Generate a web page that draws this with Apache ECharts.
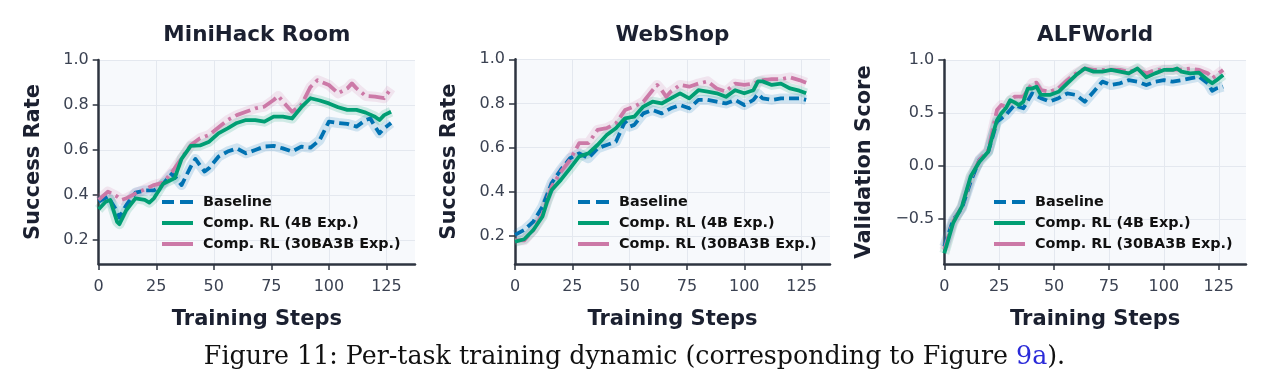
<!DOCTYPE html>
<html>
<head>
<meta charset="utf-8">
<title>Per-task training dynamic</title>
<script src="https://cdn.jsdelivr.net/npm/echarts@6/dist/echarts.min.js"></script>
<style>
  html, body { margin: 0; padding: 0; background: #fff; }
  #chart { width: 1269px; height: 390px; }
</style>
</head>
<body>
<div id="chart"></div>
<script>
// ---- data: [training step, value] ----
var panelTitles = ['MiniHack Room', 'WebShop', 'ALFWorld'];
var yNames = ['Success Rate', 'Success Rate', 'Validation Score'];
var seriesNames = ['Baseline', 'Comp. RL (4B Exp.)', 'Comp. RL (30BA3B Exp.)'];
var xTicks = [0, 25, 50, 75, 100, 125];
var yTicksRate = [0.2, 0.4, 0.6, 0.8, 1.0];
var yTicksScore = [-0.5, 0.0, 0.5, 1.0];

var miniBaseline = [[0,0.37],[4,0.393],[8,0.326],[9,0.30],[12,0.355],[16,0.41],[20,0.42],[24,0.42],[28,0.45],[32,0.496],[36,0.444],[40,0.526],[42,0.56],[46,0.504],[48,0.52],[52,0.57],[56,0.593],[60,0.607],[64,0.585],[68,0.60],[72,0.615],[76,0.618],[80,0.607],[84,0.593],[88,0.615],[92,0.61],[96,0.644],[100,0.726],[104,0.72],[108,0.716],[112,0.704],[116,0.733],[118,0.74],[120,0.704],[122,0.674],[124,0.696],[127,0.72]];
var miniComp4b = [[0,0.336],[3,0.37],[5,0.378],[8,0.28],[9,0.27],[12,0.333],[16,0.385],[20,0.378],[22,0.366],[24,0.385],[28,0.45],[32,0.47],[33,0.475],[36,0.56],[40,0.618],[44,0.62],[48,0.637],[52,0.674],[56,0.696],[60,0.72],[64,0.733],[68,0.733],[72,0.726],[76,0.748],[80,0.748],[84,0.74],[88,0.79],[92,0.83],[96,0.82],[100,0.807],[104,0.79],[108,0.778],[112,0.778],[116,0.766],[120,0.748],[122,0.733],[124,0.755],[127,0.77]];
var miniComp30b = [[0,0.378],[4,0.415],[8,0.393],[10,0.378],[12,0.385],[16,0.407],[20,0.425],[24,0.444],[28,0.455],[32,0.504],[36,0.563],[40,0.622],[44,0.652],[48,0.667],[52,0.70],[56,0.733],[60,0.755],[64,0.77],[68,0.785],[72,0.793],[76,0.822],[78,0.84],[80,0.815],[84,0.77],[88,0.80],[92,0.88],[95,0.91],[100,0.889],[104,0.852],[108,0.874],[110,0.896],[112,0.874],[116,0.84],[120,0.837],[124,0.83],[127,0.874]];

var webBaseline = [[0,0.205],[4,0.227],[8,0.265],[12,0.333],[16,0.44],[20,0.50],[24,0.552],[28,0.574],[32,0.552],[36,0.597],[40,0.612],[44,0.627],[48,0.718],[50,0.695],[52,0.703],[56,0.755],[60,0.77],[64,0.755],[68,0.778],[72,0.793],[76,0.778],[80,0.816],[84,0.816],[88,0.808],[92,0.80],[96,0.816],[100,0.793],[104,0.816],[106,0.843],[108,0.823],[112,0.816],[116,0.823],[120,0.823],[124,0.823],[127,0.816]];
var webComp4b = [[0,0.174],[4,0.185],[8,0.227],[12,0.288],[14,0.355],[16,0.408],[20,0.454],[24,0.506],[28,0.56],[32,0.574],[36,0.612],[40,0.657],[44,0.688],[48,0.733],[52,0.74],[56,0.786],[60,0.808],[64,0.80],[68,0.823],[72,0.846],[76,0.823],[80,0.86],[84,0.854],[88,0.846],[92,0.83],[96,0.86],[100,0.846],[104,0.86],[106,0.90],[108,0.90],[112,0.884],[116,0.89],[120,0.868],[124,0.858],[127,0.846]];
var webComp30b = [[0,0.18],[4,0.18],[8,0.227],[12,0.30],[16,0.423],[20,0.49],[24,0.544],[28,0.62],[32,0.62],[36,0.68],[40,0.688],[44,0.71],[48,0.77],[52,0.786],[56,0.808],[60,0.86],[62,0.884],[64,0.86],[66,0.83],[68,0.854],[72,0.884],[76,0.876],[80,0.89],[84,0.90],[88,0.868],[92,0.854],[96,0.89],[100,0.884],[104,0.89],[108,0.906],[112,0.91],[116,0.91],[120,0.918],[124,0.906],[127,0.894]];

var alfBaseline = [[0,-0.76],[4,-0.51],[8,-0.40],[12,-0.148],[16,0.057],[20,0.135],[24,0.418],[28,0.48],[32,0.575],[36,0.544],[40,0.685],[44,0.64],[48,0.607],[52,0.64],[56,0.685],[60,0.67],[64,0.607],[68,0.70],[72,0.796],[76,0.764],[80,0.78],[84,0.81],[88,0.796],[92,0.764],[96,0.796],[100,0.81],[104,0.796],[108,0.81],[112,0.827],[116,0.843],[120,0.78],[122,0.71],[124,0.733],[127,0.748]];
var alfComp4b = [[0,-0.824],[4,-0.54],[8,-0.384],[12,-0.10],[16,0.04],[20,0.135],[22,0.29],[24,0.434],[26,0.497],[28,0.544],[30,0.62],[32,0.60],[34,0.575],[36,0.607],[38,0.73],[40,0.73],[42,0.748],[44,0.67],[48,0.67],[52,0.70],[56,0.78],[60,0.858],[64,0.92],[68,0.89],[72,0.89],[76,0.906],[80,0.89],[84,0.874],[88,0.92],[92,0.836],[96,0.874],[100,0.906],[104,0.906],[106,0.92],[108,0.89],[112,0.874],[116,0.88],[120,0.81],[122,0.78],[124,0.81],[127,0.858]];
var alfComp30b = [[0,-0.79],[4,-0.525],[8,-0.384],[12,-0.116],[16,0.057],[20,0.15],[24,0.528],[26,0.575],[28,0.56],[32,0.654],[36,0.654],[40,0.78],[42,0.786],[44,0.717],[48,0.70],[52,0.733],[56,0.81],[60,0.874],[64,0.92],[68,0.906],[72,0.906],[76,0.91],[80,0.906],[84,0.89],[88,0.91],[92,0.874],[96,0.906],[100,0.91],[104,0.91],[108,0.91],[112,0.92],[116,0.906],[120,0.874],[122,0.827],[124,0.858],[127,0.906]];

var panelData = [
  [miniBaseline, miniComp4b, miniComp30b],
  [webBaseline, webComp4b, webComp30b],
  [alfBaseline, alfComp4b, alfComp30b]
];

// ---- layout / style ----
var colors = ['#0072B2', '#009E73', '#CC79A7'];
var dashes = [[10, 5], 'solid', [16, 5, 3, 5]];
// legend glyphs: two dashes for the baseline, plain bars for the others
var legendIcons = [
  'path://M0,0h12v4h-12z M18,0h13v4h-13z',
  'path://M0,0h31v4h-31z',
  'path://M0,0h31v4h-31z'
];
var grids = [
  { left: 98.7, top: 60, width: 316.3, height: 204 },
  { left: 515, top: 59.3, width: 315, height: 204.7 },
  { left: 944.3, top: 60, width: 301.7, height: 204 }
];
var yRanges = [[0.093, 1.0], [0.073, 1.0], [-0.925, 1.0]];
var yTicks = [yTicksRate, yTicksRate, yTicksScore];
var yNameGap = [55, 55, 69];
var legendLeft = [162, 578, 994];

var axisColor = '#2e3440';
var labelColor = '#3b4252';
var gridColor = '#e4e8ef';
var titleFont = { fontFamily: 'DejaVu Sans', fontWeight: 'bold', fontSize: 21.5, color: '#1b2030' };

var option = {
  animation: false,
  backgroundColor: '#ffffff',
  title: [],
  grid: [],
  xAxis: [],
  yAxis: [],
  legend: [],
  series: []
};

for (var p = 0; p < 3; p++) {
  var g = grids[p];
  option.grid.push({
    left: g.left, top: g.top, width: g.width, height: g.height,
    show: true, backgroundColor: '#f7f9fc', borderWidth: 0
  });
  option.title.push({
    text: panelTitles[p],
    left: g.left + g.width / 2,
    top: 24,
    padding: 0,
    textAlign: 'center',
    textStyle: titleFont
  });
  option.xAxis.push({
    gridIndex: p,
    type: 'value',
    min: 0,
    max: 137.4,
    name: 'Training Steps',
    nameLocation: 'middle',
    nameGap: 45,
    nameTextStyle: { fontFamily: 'DejaVu Sans', fontWeight: 'bold', fontSize: 21, color: '#1b2030' },
    axisLine: { show: true, onZero: false, lineStyle: { color: axisColor, width: 2.5 } },
    axisTick: { show: true, length: 6, customValues: xTicks, lineStyle: { color: axisColor, width: 1.5 } },
    axisLabel: {
      customValues: xTicks, margin: 15,
      fontFamily: 'DejaVu Sans', fontSize: 16, color: labelColor
    },
    splitLine: { show: true, lineStyle: { color: gridColor, width: 1 } }
  });
  option.yAxis.push({
    gridIndex: p,
    type: 'value',
    min: yRanges[p][0],
    max: yRanges[p][1],
    name: yNames[p],
    nameLocation: 'middle',
    nameGap: yNameGap[p],
    nameTextStyle: { fontFamily: 'DejaVu Sans', fontWeight: 'bold', fontSize: 21, color: '#1b2030' },
    axisLine: { show: true, onZero: false, lineStyle: { color: axisColor, width: 2.5 } },
    axisTick: { show: true, length: 6, customValues: yTicks[p], lineStyle: { color: axisColor, width: 1.5 } },
    axisLabel: {
      customValues: yTicks[p], margin: 10,
      fontFamily: 'DejaVu Sans', fontSize: 16, color: labelColor,
      formatter: function (v) { return v.toFixed(1).replace('-', '\u2212'); }
    },
    splitLine: { show: true, lineStyle: { color: gridColor, width: 1 } }
  });
  option.legend.push({
    orient: 'vertical',
    left: legendLeft[p],
    top: 195,
    padding: 0,
    itemWidth: 31,
    itemHeight: 4.5,
    itemGap: 7,
    data: seriesNames.map(function (n, i) {
      return { name: n + '#' + p, icon: legendIcons[i], itemStyle: { color: colors[i], borderWidth: 0 } };
    }),
    formatter: function (n) { return n.split('#')[0]; },
    textStyle: { fontFamily: 'DejaVu Sans', fontWeight: 'bold', fontSize: 14.4, color: '#111111', padding: [0, 0, 0, 5], lineHeight: 14 },
    selectedMode: false
  });

  // soft band under each curve
  for (var s = 0; s < 3; s++) {
    option.series.push({
      type: 'line',
      name: 'band' + s + '#' + p,
      xAxisIndex: p, yAxisIndex: p,
      data: panelData[p][s],
      symbol: 'none',
      silent: true,
      z: 1,
      lineStyle: { color: colors[s], width: 10, opacity: 0.16, join: 'round' }
    });
  }
  for (var s2 = 0; s2 < 3; s2++) {
    option.series.push({
      type: 'line',
      name: seriesNames[s2] + '#' + p,
      xAxisIndex: p, yAxisIndex: p,
      data: panelData[p][s2],
      symbol: 'none',
      z: 3 + (s2 === 1 ? 1 : 0),
      itemStyle: { color: colors[s2] },
      lineStyle: { color: colors[s2], width: 3.8, type: dashes[s2], join: 'round' }
    });
  }
}

// caption
option.title.push({
  text: 'Figure 11: Per-task training dynamic (corresponding to Figure {link|9a}).',
  left: 'center',
  top: 340,
  textStyle: {
    fontFamily: 'DejaVu Serif', fontWeight: 'normal', fontSize: 25.3, color: '#111111',
    rich: { link: { fontFamily: 'DejaVu Serif', fontSize: 25.3, color: '#2b2bd9' } }
  }
});

var chart = echarts.init(document.getElementById('chart'), null, { renderer: 'canvas' });
chart.setOption(option);
</script>
</body>
</html>
